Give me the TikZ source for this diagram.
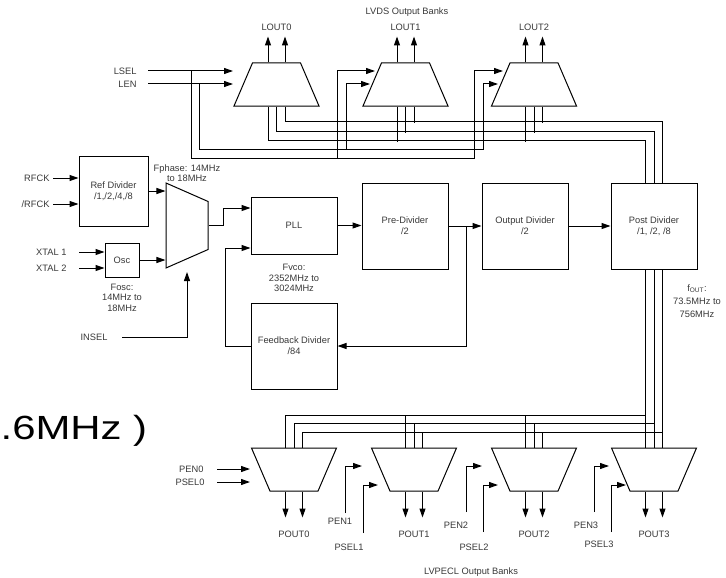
\documentclass[tikz,border=0pt]{standalone}
\usepackage{fontspec}
\setmainfont{Liberation Sans}
\usetikzlibrary{arrows.meta,shapes.geometric,calc}
\definecolor{txt}{rgb}{0.22,0.22,0.22}
\begin{document}
\begin{tikzpicture}[x=1pt,y=-1pt,line width=1pt,
  every node/.style={font=\fontsize{9.3}{11}\selectfont,text=txt},
  lbl/.style={inner sep=0pt},
  box/.style={draw,minimum width=86pt,minimum height=86pt,align=center,inner sep=0pt},
  mux/.style={trapezium,draw,trapezium stretches=true,minimum width=85pt,minimum height=43pt,trapezium angle=69,inner sep=2pt},
  arr/.style={-{Triangle[length=9pt,width=6pt]}}]
\useasboundingbox (0,0) rectangle (726,578);

% ---- multiplexers
\node[mux] (l0) at (276.5,84.5) {};
\node[mux] (l1) at (405.5,84.5) {};
\node[mux] (l2) at (534,84.5) {};
\node[mux,shape border rotate=180] (p0) at (294,469.5) {};
\node[mux,shape border rotate=180] (p1) at (414,469.5) {};
\node[mux,shape border rotate=180] (p2) at (534,469.5) {};
\node[mux,shape border rotate=180] (p3) at (654,469.5) {};
\node[mux,minimum height=42pt,rotate=-90] (im) at (187,225.5) {};

% ---- boxes
\node[box,minimum width=69pt,minimum height=70pt] (ref) at (113.5,191) {Ref Divider\\/1,/2,/4,/8};
\node[box,minimum width=34pt,minimum height=34pt] (osc) at (122,260) {Osc};
\node[box,minimum height=57pt] (pll) at (294,225.5) {PLL};
\node[box] (pre) at (405,226) {Pre-Divider\\/2};
\node[box] (outd) at (525,226) {Output Divider\\/2};
\node[box] (post) at (654,226) {Post Divider\\/1, /2, /8};
\node[box] (fb) at (294,346) {Feedback Divider\\/84};

% ---- input labels
\node[lbl,anchor=east] (rfck) at (50,178) {RFCK};
\node[lbl,anchor=east] (nrfck) at (50,204) {/RFCK};
\node[lbl,anchor=east] (x1) at (67,252) {XTAL 1};
\node[lbl,anchor=east] (x2) at (67,268) {XTAL 2};
\node[lbl,anchor=east] (lsel) at (137,71) {LSEL};
\node[lbl,anchor=east] (len) at (137,84) {LEN};
\node[lbl,anchor=east] (insel) at (108,337) {INSEL};
\node[lbl,anchor=east] (pen0) at (204,469) {PEN0};
\node[lbl,anchor=east] (psel0) at (205,482) {PSEL0};
\node[lbl] (pen1) at (340,521) {PEN1};
\node[lbl] (psel1) at (349,547) {PSEL1};
\node[lbl] (pen2) at (456,525) {PEN2};
\node[lbl] (psel2) at (474,547) {PSEL2};
\node[lbl] (pen3) at (586,525) {PEN3};
\node[lbl] (psel3) at (599,544) {PSEL3};

% ---- annotations
\node[lbl,align=center,font=\fontsize{9.3}{10}\selectfont] (fph) at (187,173) {Fphase: 14MHz\\to 18MHz};
\node[lbl,align=center,font=\fontsize{9.3}{10.5}\selectfont] (fosc) at (122,297.5) {Fosc:\\14MHz to\\18MHz};
\node[lbl,align=center,font=\fontsize{9.3}{10.5}\selectfont] (fvco) at (294,278) {Fvco:\\2352MHz to\\3024MHz};
\node[lbl,align=center,font=\fontsize{9.3}{13}\selectfont] (fout) at (697,301) {f\textsubscript{OUT}:\\73.5MHz to\\756MHz};
\node[lbl] (lvds) at (407,12) {LVDS Output Banks};
\node[lbl] (lvpecl) at (471,572) {LVPECL Output Banks};
\node[lbl,anchor=base west,xscale=1.25,font=\fontsize{33.5}{40}\selectfont,text=black] (big) at (0,439) {.6MHz )};

% ---- reference / oscillator inputs
\draw[arr,shorten <=3pt] (rfck.east) -- (rfck.east -| ref.west);
\draw[arr,shorten <=3pt] (nrfck.east) -- (nrfck.east -| ref.west);
\draw[arr,shorten <=12pt] (x1.east) -- (x1.east -| osc.west);
\draw[arr,shorten <=12pt] (x2.east) -- (x2.east -| osc.west);
\draw[arr] (ref.east) -- (ref.east -| im.south);
\draw[arr] (osc.east) -- (osc.east -| im.south);
\draw[arr,shorten <=14pt] (insel.east) -| ($(im.center)+(0,46.5)$);

% ---- PLL loop
\draw[arr] (im.north) -- ++(15,0) |- ($(pll.west)+(0,-17.5)$);
\draw[arr] (fb.west) -- ++(-25,0) |- ($(pll.west)+(0,22.5)$);
\draw[arr] (pll.east) -- (pll.east -| pre.west);
\draw[arr] (pre.east) -- (outd.west);
\draw[arr] ($(pre.east)+(18,0)$) |- (fb.east);
\draw[arr] (outd.east) -- (post.west);

% ---- LVDS select / enable
\coordinate (l0a) at (233,71);  \coordinate (l0b) at (233,84);
\coordinate (l1a) at (375,71);  \coordinate (l1b) at (370,84);
\coordinate (l2a) at (503,71);  \coordinate (l2b) at (498,84);
\draw[arr,shorten <=11pt] (lsel.east) -- (l0a);
\draw[arr,shorten <=11pt] (len.east) -- (l0b);
\draw[arr] (191,71) |- (474,158) |- (l2a);
\draw[arr] (337,158) |- (l1a);
\draw[arr] (199,84) |- (483,149) |- (l2b);
\draw[arr] (346,149) |- (l1b);

% ---- LVDS outputs
\foreach \m/\t in {l0/LOUT0,l1/LOUT1,l2/LOUT2}{
  \draw[arr] ($(\m.north)+(-8.5,0)$) -- ++(0,-26);
  \draw[arr] ($(\m.north)+(8.5,0)$) -- ++(0,-26);
  \node[lbl] at ($(\m.north)+(0,-35)$) {\t};
}

% ---- buses from LVDS muxes to Post Divider
\draw ($(l0.south)+(-8.5,0)$) |- ($(post.north)+(-8.5,-42)$) -- ($(post.north)+(-8.5,0)$);
\draw (l0.south) |- ($(post.north)+(0,-51)$) -- (post.north);
\draw ($(l0.south)+(8.5,0)$) |- ($(post.north)+(8.5,-61)$) -- ($(post.north)+(8.5,0)$);
\foreach \m in {l1,l2}{
  \draw ($(\m.south)+(-8.5,0)$) -- ++(0,35);
  \draw (\m.south) -- ++(0,26);
  \draw ($(\m.south)+(8.5,0)$) -- ++(0,16);
}

% ---- buses from Post Divider to LVPECL muxes
\draw ($(post.south)+(-8.5,0)$) -- ($(p3.north)+(-8.5,0)$);
\draw (post.south) -- (p3.north);
\draw ($(post.south)+(8.5,0)$) -- ($(p3.north)+(8.5,0)$);
\draw ($(post.south)+(-8.5,146)$) -| ($(p0.north)+(-8.5,0)$);
\draw ($(post.south)+(0,154)$) -| (p0.north);
\draw ($(post.south)+(8.5,163)$) -| ($(p0.north)+(8.5,0)$);
\foreach \m in {p1,p2}{
  \draw ($(\m.north)+(-8.5,0)$) -- ++(0,-33);
  \draw (\m.north) -- ++(0,-25);
  \draw ($(\m.north)+(8.5,0)$) -- ++(0,-16);
}

% ---- LVPECL outputs
\foreach \m/\t in {p0/POUT0,p1/POUT1,p2/POUT2,p3/POUT3}{
  \draw[arr] ($(\m.south)+(-8.5,0)$) -- ++(0,26);
  \draw[arr] ($(\m.south)+(8.5,0)$) -- ++(0,26);
  \node[lbl] at ($(\m.south)+(0,43)$) {\t};
}

% ---- LVPECL enables / selects
\draw[arr,shorten <=13pt] (pen0.east) -- (pen0.east -| 250,0);
\draw[arr,shorten <=12pt] (psel0.east) -- (psel0.east -| 250,0);
\draw[arr] (345,513) |- (362,466);
\draw[arr] (363,533) |- (378,485);
\draw[arr] (466,512) |- (482,466);
\draw[arr] (483,532) |- (498,485);
\draw[arr] (594,512) |- (609,466);
\draw[arr] (611,532) |- (626,485);
\end{tikzpicture}
\end{document}
